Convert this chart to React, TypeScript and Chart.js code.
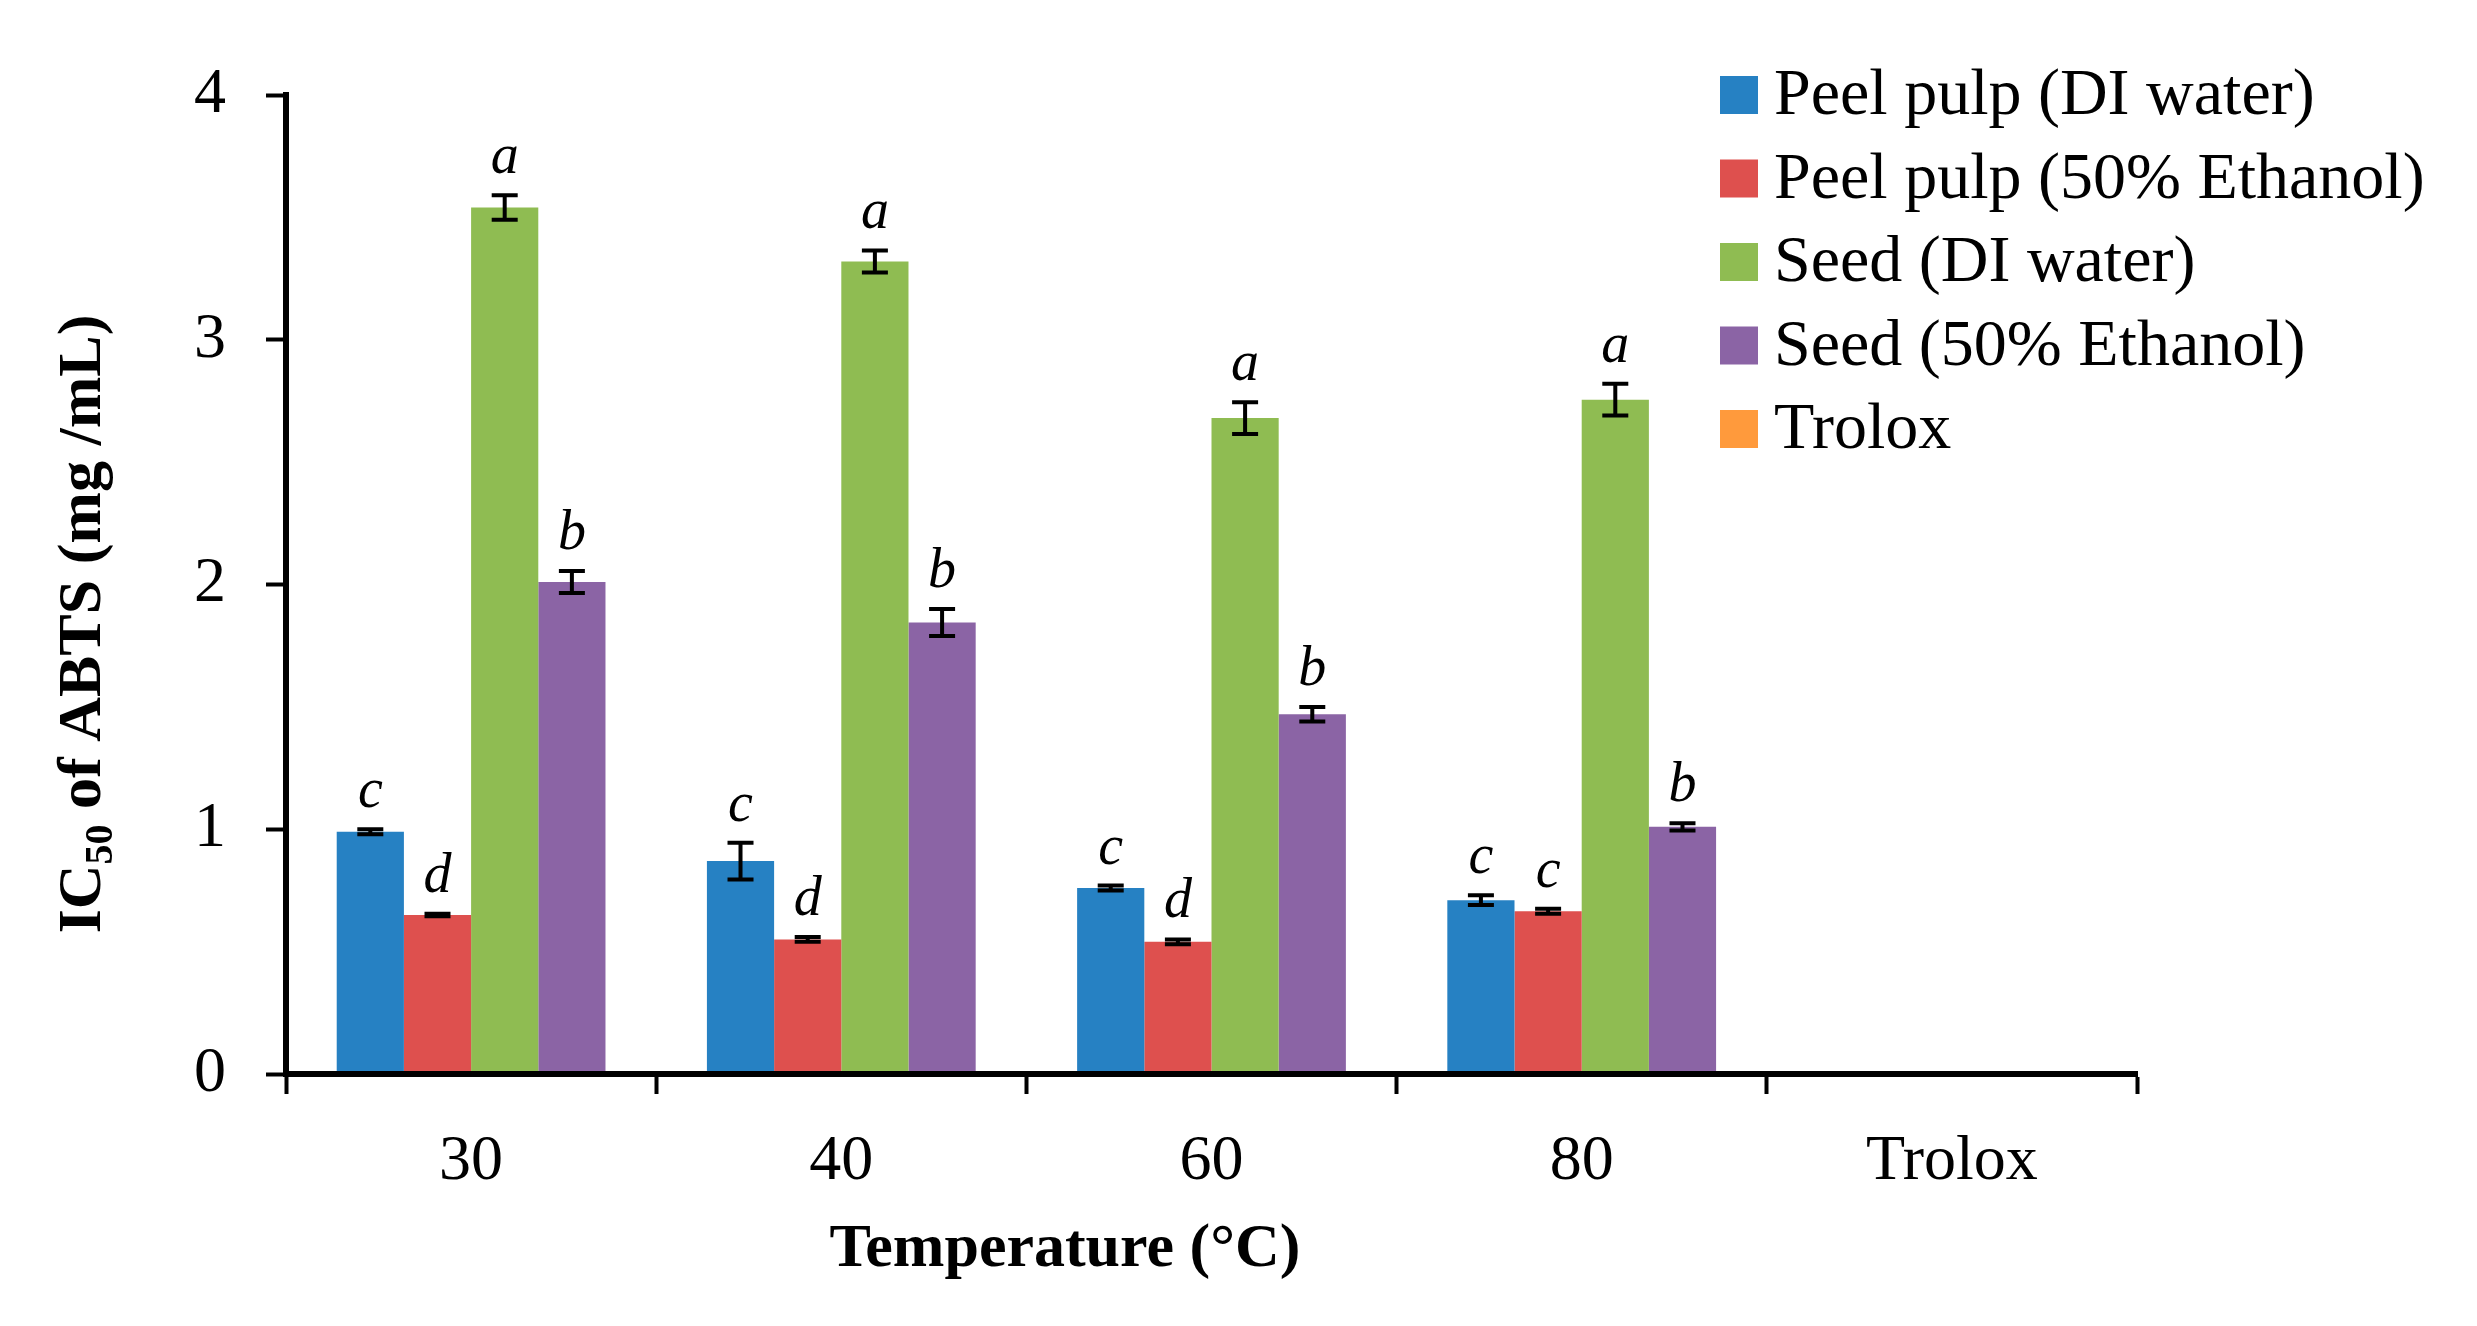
import { useEffect, useRef } from "react";
import { Chart, registerables } from "chart.js";

Chart.register(...registerables);

// Extraction temperatures (°C) plus the Trolox reference
const categories = ["30", "40", "60", "80", "Trolox"];
const seriesNames = [
  "Peel pulp (DI water)",
  "Peel pulp (50% Ethanol)",
  "Seed (DI water)",
  "Seed (50% Ethanol)",
  "Trolox",
];
const seriesColors = ["#2681C3", "#DE504E", "#8FBC52", "#8B64A5", "#FF9A3C"];

// IC50 of ABTS (mg/mL), mean values
const peelWater = [0.99, 0.87, 0.76, 0.71, null];
const peelEthanol = [0.65, 0.55, 0.54, 0.665, null];
const seedWater = [3.54, 3.32, 2.68, 2.755, null];
const seedEthanol = [2.01, 1.845, 1.47, 1.01, null];
const trolox = [null, null, null, null, 0.005];

// Standard deviations
const peelWaterErr = [0.01, 0.075, 0.01, 0.02, null];
const peelEthanolErr = [0.005, 0.01, 0.01, 0.01, null];
const seedWaterErr = [0.05, 0.045, 0.065, 0.065, null];
const seedEthanolErr = [0.045, 0.055, 0.03, 0.015, null];
const troloxErr = [null, null, null, null, null];

// Significance letters
const peelWaterLetters = ["c", "c", "c", "c", ""];
const peelEthanolLetters = ["d", "d", "d", "c", ""];
const seedWaterLetters = ["a", "a", "a", "a", ""];
const seedEthanolLetters = ["b", "b", "b", "b", ""];
const troloxLetters = ["", "", "", "", ""];

const yTicks = [0, 1, 2, 3, 4];

const xTitle = "Temperature (°C)";
const yTitleMain = "IC";
const yTitleSub = "50";
const yTitleRest = " of ABTS (mg /mL)";

const FONT = "'Liberation Serif', 'Times New Roman', serif";

const seriesValues = [peelWater, peelEthanol, seedWater, seedEthanol, trolox];
const seriesErrors = [peelWaterErr, peelEthanolErr, seedWaterErr, seedEthanolErr, troloxErr];
const seriesLetters = [peelWaterLetters, peelEthanolLetters, seedWaterLetters, seedEthanolLetters, troloxLetters];

// Error bars and letters over each bar
const errorBarPlugin = {
  id: "errorBars",
  afterDatasetsDraw(chart: any) {
    const ctx = chart.ctx;
    const yScale = chart.scales.y;
    ctx.save();
    chart.data.datasets.forEach((ds: any, di: number) => {
      const meta = chart.getDatasetMeta(di);
      meta.data.forEach((bar: any, i: number) => {
        const v = ds.data[i];
        if (v === null || v === undefined) return;
        const err = seriesErrors[di][i];
        let topPx = yScale.getPixelForValue(v);
        if (err !== null && err !== undefined) {
          const yHi = yScale.getPixelForValue(v + err);
          const yLo = yScale.getPixelForValue(v - err);
          const half = 13;
          ctx.strokeStyle = "#000";
          ctx.lineWidth = 4;
          ctx.beginPath();
          ctx.moveTo(bar.x, yHi);
          ctx.lineTo(bar.x, yLo);
          ctx.moveTo(bar.x - half, yHi);
          ctx.lineTo(bar.x + half, yHi);
          ctx.moveTo(bar.x - half, yLo);
          ctx.lineTo(bar.x + half, yLo);
          ctx.stroke();
          topPx = yHi - 2;
        }
        const letter = seriesLetters[di][i];
        if (letter) {
          ctx.fillStyle = "#000";
          ctx.font = `italic 56px ${FONT}`;
          ctx.textAlign = "center";
          ctx.textBaseline = "alphabetic";
          ctx.fillText(letter, bar.x, topPx - 20);
        }
      });
    });
    ctx.restore();
  },
};

// Legend, axis titles
const decorPlugin = {
  id: "decor",
  afterDraw(chart: any) {
    const ctx = chart.ctx;
    ctx.save();
    // legend
    const lx = 1720;
    const ly0 = 95;
    const step = 83.5;
    chart.data.datasets.forEach((ds: any, i: number) => {
      const cy = ly0 + i * step;
      ctx.fillStyle = ds.backgroundColor;
      ctx.fillRect(lx, cy - 19, 38, 38);
      ctx.fillStyle = "#000";
      ctx.font = `66px ${FONT}`;
      ctx.textAlign = "left";
      ctx.textBaseline = "middle";
      ctx.fillText(ds.label, lx + 54, cy + 2);
    });

    // x title
    ctx.font = `bold 62px ${FONT}`;
    ctx.textAlign = "center";
    ctx.textBaseline = "middle";
    ctx.fillText(xTitle, 1065, 1250);

    // y title with subscript
    ctx.translate(79, 624);
    ctx.rotate(-Math.PI / 2);
    const big = `bold 62px ${FONT}`;
    const small = `bold 40px ${FONT}`;
    ctx.font = big;
    const w1 = ctx.measureText(yTitleMain).width;
    const w3 = ctx.measureText(yTitleRest).width;
    ctx.font = small;
    const w2 = ctx.measureText(yTitleSub).width;
    const total = w1 + w2 + w3;
    let x = -total / 2;
    ctx.textAlign = "left";
    ctx.textBaseline = "alphabetic";
    const base = 21;
    ctx.font = big;
    ctx.fillText(yTitleMain, x, base);
    x += w1;
    ctx.font = small;
    ctx.fillText(yTitleSub, x, base + 12);
    x += w2;
    ctx.font = big;
    ctx.fillText(yTitleRest, x, base);
    ctx.restore();
  },
};

export default function App() {
  const canvasRef = useRef<HTMLCanvasElement | null>(null);

  useEffect(() => {
    document.body.style.margin = "0";
    const canvas = canvasRef.current;
    if (!canvas) return;

    const chart = new Chart(canvas, {
      type: "bar",
      data: {
        labels: categories,
        datasets: seriesNames.map((name, i) => ({
          label: name,
          data: seriesValues[i],
          backgroundColor: seriesColors[i],
          borderWidth: 0,
          barPercentage: i === 4 ? 0.25 : 1,
          categoryPercentage: 0.726,
        })),
      },
      options: {
        responsive: false,
        animation: false,
        devicePixelRatio: 1,
        skipNull: true,
        layout: { padding: { top: 95, right: 340, left: 0, bottom: 0 } },
        plugins: {
          legend: { display: false },
          tooltip: { enabled: false },
        },
        scales: {
          x: {
            grid: {
              offset: true,
              drawOnChartArea: false,
              drawTicks: true,
              tickLength: 20,
              tickWidth: 4,
              tickColor: "#000",
            },
            border: { display: true, width: 6, color: "#000", z: 2 },
            ticks: {
              color: "#000",
              font: { family: FONT, size: 64 },
              padding: 30,
              maxRotation: 0,
              autoSkip: false,
            },
            afterFit: (s: any) => {
              s.height = 252;
            },
          },
          y: {
            min: 0,
            max: 4,
            afterBuildTicks: (s: any) => {
              s.ticks = yTicks.map((v) => ({ value: v }));
            },
            grid: {
              drawOnChartArea: false,
              drawTicks: true,
              tickLength: 20,
              tickWidth: 4,
              tickColor: "#000",
            },
            border: { display: true, width: 6, color: "#000", z: 2 },
            ticks: {
              color: "#000",
              font: { family: FONT, size: 64 },
              padding: 40,
            },
            afterFit: (s: any) => {
              s.width = 286;
            },
          },
        },
      } as any,
      plugins: [errorBarPlugin, decorPlugin],
    });

    return () => chart.destroy();
  }, []);

  return (
    <div style={{ position: "absolute", left: 0, top: 0, width: 2477, height: 1326, background: "#fff" }}>
      <canvas ref={canvasRef} width={2477} height={1326} style={{ display: "block", width: 2477, height: 1326 }} />
    </div>
  );
}
